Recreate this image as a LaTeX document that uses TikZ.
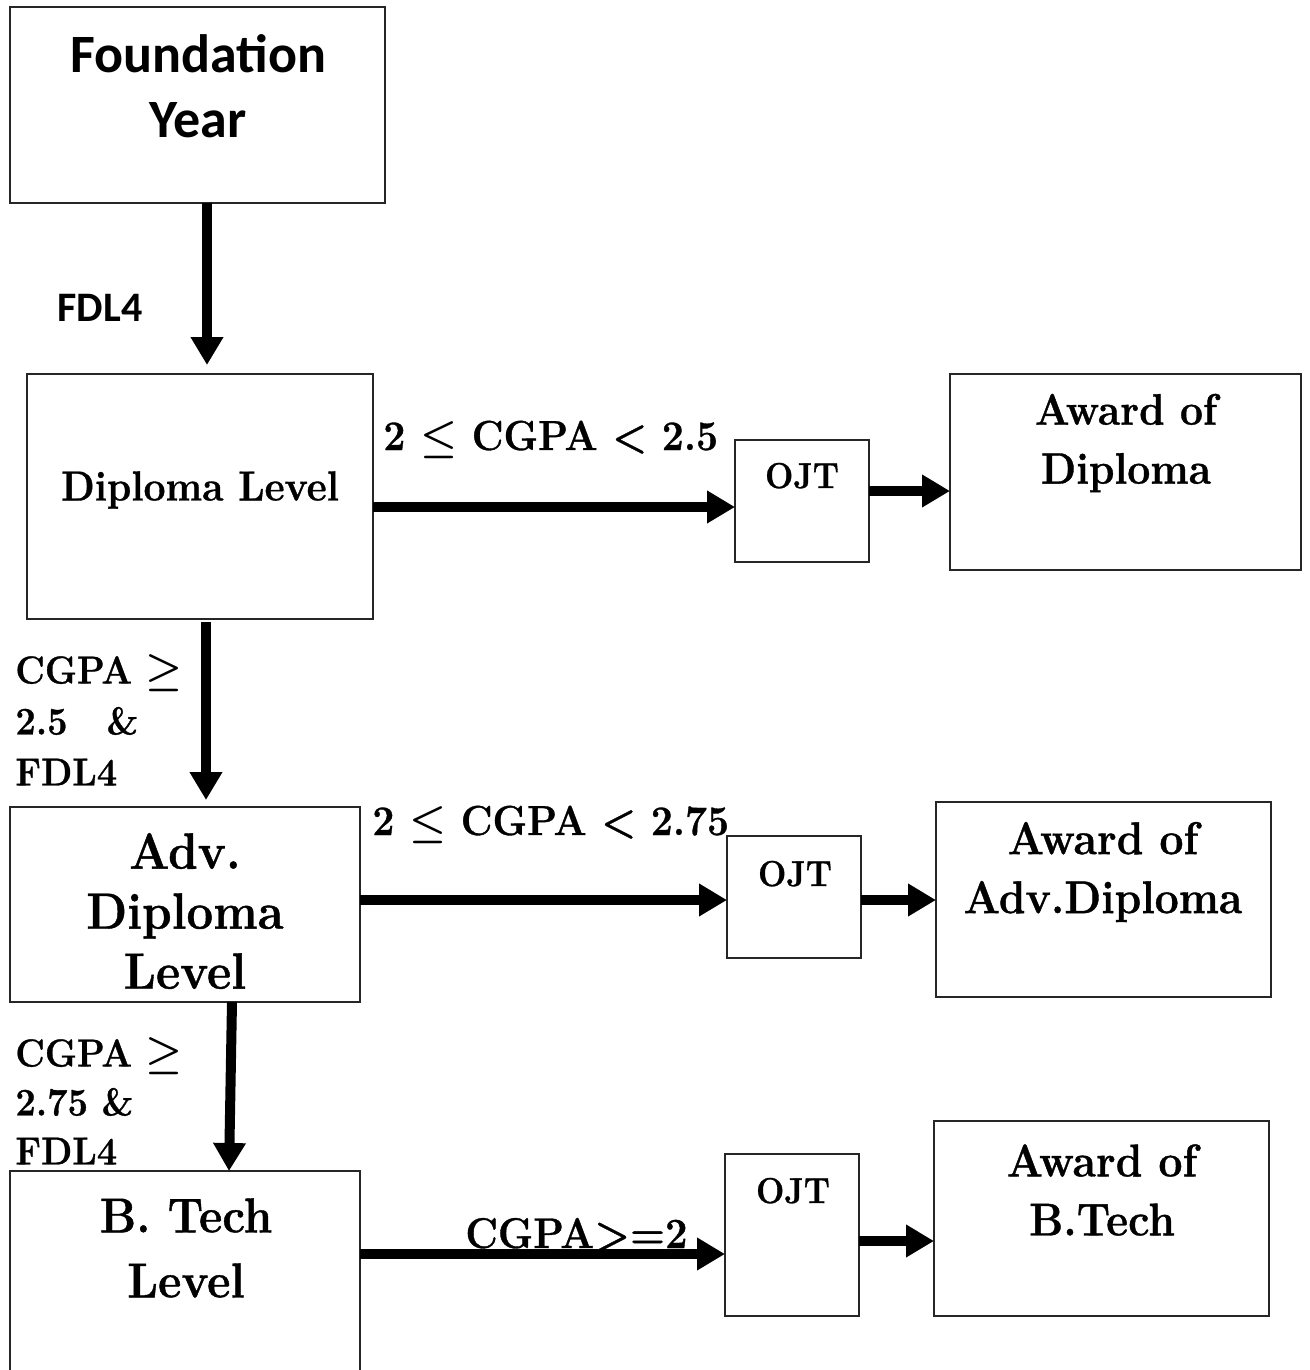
\documentclass[tikz,border=0pt]{standalone}
\usepackage{fontspec}
\setmainfont{Latin Modern Roman}[BoldFeatures={FakeBold=0.8,FakeStretch=0.93}]
\newfontfamily\calibri{Carlito}
\usetikzlibrary{arrows.meta}
\newcommand{\fs}[2]{\fontsize{#1}{#2}\selectfont\bfseries\boldmath}
\begin{document}
\begin{tikzpicture}[x=0.5pt,y=-0.5pt,
  box/.style={draw=black!85, line width=0.9pt, inner sep=0pt, outer sep=0pt},
  arr/.style={line width=5pt, -{Triangle[length=14pt,width=15.5pt]}},
  txt/.style={inner sep=0pt, align=center},
  ]
\useasboundingbox (0,0) rectangle (1310,1370);

% boxes
\node[box, minimum width=187.5pt, minimum height=98pt]  (fy)   at (197.5,105) {};
\node[box, minimum width=173pt,   minimum height=122.5pt] (dl) at (200,496.5) {};
\node[box, minimum width=67pt,    minimum height=61pt]  (ojt1) at (802,501) {};
\node[box, minimum width=175.5pt, minimum height=98pt]  (ad1)  at (1125.5,472) {};
\node[box, minimum width=175pt,   minimum height=97.5pt] (adl) at (185,904.5) {};
\node[box, minimum width=67pt,    minimum height=61pt]  (ojt2) at (794,897) {};
\node[box, minimum width=167.5pt, minimum height=97.5pt] (ad2) at (1103.5,899.5) {};
\node[box, minimum width=175pt,   minimum height=114.5pt] (btl) at (185,1285.5) {};
\node[box, minimum width=67pt,    minimum height=81pt]  (ojt3) at (792,1235) {};
\node[box, minimum width=167.5pt, minimum height=97.5pt] (ad3) at (1101.5,1218.5) {};

% texts in boxes
\node[txt, font={\calibri\fs{27}{32.5}}] (tfy) at (198,86) {Foundation\\Year};
\node[txt, font=\fs{21}{24}] (tdl) at (200,490) {Diploma Level};
\node[txt, font=\fs{18}{20}, anchor=base] (to1) at (802,488) {OJT};
\node[txt, font=\fs{22}{29.5}] (ta1) at (1126,443) {Award of\\Diploma};
\node[txt, font=\fs{25.5}{30}] (tadl) at (185,911) {Adv.\\Diploma\\Level};
\node[txt, font=\fs{18}{20}, anchor=base] (to2) at (795,886) {OJT};
\node[txt, font=\fs{23}{29.5}] (ta2) at (1103,872) {Award of\\Adv.Diploma};
\node[txt, font=\fs{24.5}{32.5}] (tbtl) at (186,1248) {B. Tech\\Level};
\node[txt, font=\fs{18}{20}, anchor=base] (to3) at (793,1203) {OJT};
\node[txt, font=\fs{23}{29.5}] (ta3) at (1102,1190) {Award of\\B.Tech};

% arrows
\draw[arr, shorten >=4.5pt] ([xshift=4.75pt]fy.south) -- ([xshift=3.5pt]dl.north);
\draw[arr, shorten <=1.5pt, shorten >=3.5pt] ([xshift=3pt]dl.south) -- ([xshift=10.5pt]adl.north);
\draw[arr] ([xshift=23.5pt]adl.south) -- ([xshift=22pt]btl.north);
\draw[arr] ([yshift=-5.25pt]dl.east) -- ([yshift=-3pt]ojt1.west);
\draw[arr] ([yshift=5pt]ojt1.east) -- ([yshift=-9.5pt]ad1.west);
\draw[arr] ([yshift=2.25pt]adl.east) -- ([yshift=-1.5pt]ojt2.west);
\draw[arr] ([yshift=-1.5pt]ojt2.east) -- ([yshift=-0.25pt]ad2.west);
\draw[arr] ([yshift=15.75pt]btl.east) -- ([yshift=-9.5pt]ojt3.west);
\draw[arr] ([yshift=-3pt]ojt3.east) -- ([yshift=-11.25pt]ad3.west);

% connector labels
\node[txt, font={\calibri\fs{21}{25}}] (l1) at (100,308) {FDL4};
\node[txt, font=\fs{21}{24}, anchor=base west] (l2) at (383,450) {2 $\le$ CGPA < 2.5};
\node[txt, font=\fs{19.5}{25.5}, align=left, anchor=west] (l3) at (15,720) {CGPA $\ge$\\2.5\hspace{1em}\&\\FDL4};
\node[txt, font=\fs{21}{24}, anchor=base west] (l4) at (372,835) {2 $\le$ CGPA < 2.75};
\node[txt, font=\fs{19.5}{24.5}, align=left, anchor=west] (l5) at (15,1101) {CGPA $\ge$\\2.75 \&\\FDL4};
\node[txt, font=\fs{21.5}{24}, anchor=base west] (l6) at (465,1248) {CGPA>=2};
\end{tikzpicture}
\end{document}
